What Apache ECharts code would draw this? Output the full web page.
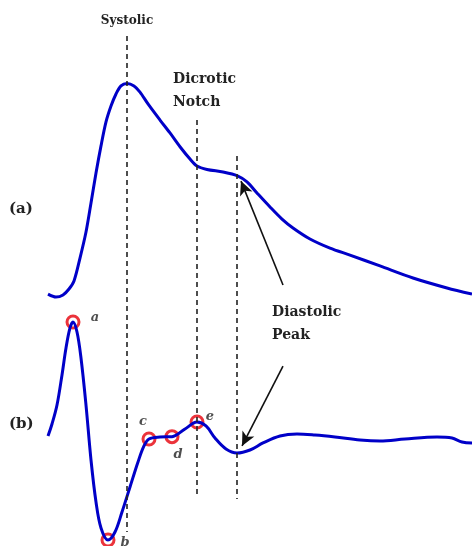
<!DOCTYPE html>
<html>
<head>
<meta charset="utf-8">
<script src="https://cdn.jsdelivr.net/npm/echarts@6/dist/echarts.min.js"></script>
<style>
html,body{margin:0;padding:0;background:#fff;}
#chart{width:472px;height:546px;}
</style>
</head>
<body>
<div id="chart"></div>
<script>
// (a) PPG waveform: time (ms) and normalized amplitude
const tA = [120,140,157.5,172.5,185,200,215,227.5,240,252.5,265,277.5,290,302.5,317.5,335,350,370,400,425,450,475,492.5,517.5,557.5,592.5,617.5,642.5,675,705,732.5,775,825,875,950,1032.5,1117.5,1180];
const ppgA = [0.009,-0.005,0.005,0.033,0.071,0.179,0.302,0.439,0.58,0.708,0.821,0.896,0.953,0.991,1.002,0.991,0.962,0.906,0.83,0.769,0.704,0.646,0.613,0.597,0.585,0.568,0.538,0.486,0.42,0.363,0.321,0.269,0.226,0.193,0.142,0.085,0.038,0.009];
// (b) second derivative: time (ms) and normalized amplitude
const tB = [120,130,142.5,155,165,175,182.5,192.5,202.5,215,227.5,240,252.5,270,287.5,305,325,345,360,372.5,400,430,462.5,492.5,515,537.5,565,592.5,625,657.5,700,742.5,787.5,837.5,900,950,1012.5,1092.5,1130,1155,1180];
const sdB = [0.009,0.113,0.278,0.54,0.774,0.948,1.0,0.913,0.687,0.278,-0.2,-0.565,-0.791,-0.896,-0.826,-0.652,-0.435,-0.217,-0.078,-0.017,0.0,0.003,0.07,0.13,0.096,-0.009,-0.104,-0.139,-0.113,-0.052,0.009,0.026,0.017,0.0,-0.026,-0.035,-0.017,0.0,-0.009,-0.043,-0.052];
// characteristic points on (b)
const pointNames = ['a','b','c','d','e'];
const pointTimes = [182.5,270,372.5,430,492.5];
const pointValues = [1.0,-0.896,-0.017,0.003,0.13];
// vertical event lines (time, top value, bottom value on (b) scale)
const eventTimes = [317.5,492.5,592.5];
const eventTops = [3.487,2.757,2.443];
const eventBottoms = [-0.826,-0.522,-0.539];

const BLUE = '#0000c8';
const chart = echarts.init(document.getElementById('chart'), null, {renderer:'canvas'});

const labelOffsets = [[22,-4],[17,3],[-6,-17],[6,18],[13,-5]];

const option = {
  animation:false,
  backgroundColor:'#fff',
  grid:[
    {left:0, width:472, top:84, height:212},
    {left:0, width:472, top:23, height:517.5}
  ],
  xAxis:[
    {type:'value', gridIndex:0, min:0, max:1180, show:false},
    {type:'value', gridIndex:1, min:0, max:1180, show:false}
  ],
  yAxis:[
    {type:'value', gridIndex:0, min:0, max:1, show:false},
    {type:'value', gridIndex:1, min:-0.9, max:3.6, show:false}
  ],
  series:[
    {
      type:'scatter', xAxisIndex:1, yAxisIndex:1, clip:false, silent:true,
      symbolSize:0, data:[],
      markLine:{
        silent:true, symbol:['none','none'],
        label:{show:false},
        lineStyle:{color:'#222', width:1.6, type:[5,4]},
        data: eventTimes.map((t,i)=>[{coord:[t, eventTops[i]]},{coord:[t, eventBottoms[i]]}])
      }
    },
    {
      type:'line', xAxisIndex:0, yAxisIndex:0, clip:false, smooth:0.3,
      showSymbol:false, silent:true,
      lineStyle:{color:BLUE, width:3},
      data: tA.map((t,i)=>[t, ppgA[i]]),
      markLine:{
        silent:true, symbol:['none','arrow'], symbolSize:[10,14],
        label:{show:false},
        lineStyle:{color:'#111', width:1.6, type:'solid'},
        data:[[{coord:[707.5,0.052]},{coord:[602.5,0.542]}]]
      }
    },
    {
      type:'line', xAxisIndex:1, yAxisIndex:1, clip:false, smooth:0.35,
      showSymbol:false, silent:true,
      lineStyle:{color:BLUE, width:3},
      data: tB.map((t,i)=>[t, sdB[i]]),
      markLine:{
        silent:true, symbol:['none','arrow'], symbolSize:[10,14],
        label:{show:false},
        lineStyle:{color:'#111', width:1.6, type:'solid'},
        data:[[{coord:[707.5,0.617]},{coord:[605,-0.078]}]]
      }
    },
    {
      type:'scatter', xAxisIndex:1, yAxisIndex:1, clip:false, silent:true,
      symbol:'circle', symbolSize:12,
      itemStyle:{color:'rgba(0,0,0,0)', borderColor:'#e6000a', borderWidth:3},
      label:{show:true, position:'inside', color:'#222',
        fontFamily:'DejaVu Serif', fontStyle:'italic', fontWeight:'bold', fontSize:13,
        formatter:p=>p.name},
      data: pointNames.map((n,i)=>({name:n, value:[pointTimes[i], pointValues[i]], label:{offset:labelOffsets[i]}}))
    }
  ],
  graphic:[
    {type:'text', x:127, y:21, style:{text:'Systolic', align:'center', verticalAlign:'middle', font:'bold 12px "DejaVu Serif"', fill:'#222'}},
    {type:'text', x:173, y:79, style:{text:'Dicrotic', align:'left', verticalAlign:'middle', font:'bold 14px "DejaVu Serif"', fill:'#222'}},
    {type:'text', x:173, y:102, style:{text:'Notch', align:'left', verticalAlign:'middle', font:'bold 14px "DejaVu Serif"', fill:'#222'}},
    {type:'text', x:9, y:209, style:{text:'(a)', align:'left', verticalAlign:'middle', font:'bold 15px "DejaVu Serif"', fill:'#222'}},
    {type:'text', x:9, y:424, style:{text:'(b)', align:'left', verticalAlign:'middle', font:'bold 15px "DejaVu Serif"', fill:'#222'}},
    {type:'text', x:272, y:312, style:{text:'Diastolic', align:'left', verticalAlign:'middle', font:'bold 14px "DejaVu Serif"', fill:'#222'}},
    {type:'text', x:272, y:335, style:{text:'Peak', align:'left', verticalAlign:'middle', font:'bold 14px "DejaVu Serif"', fill:'#222'}}
  ]
};
chart.setOption(option);
</script>
</body>
</html>
